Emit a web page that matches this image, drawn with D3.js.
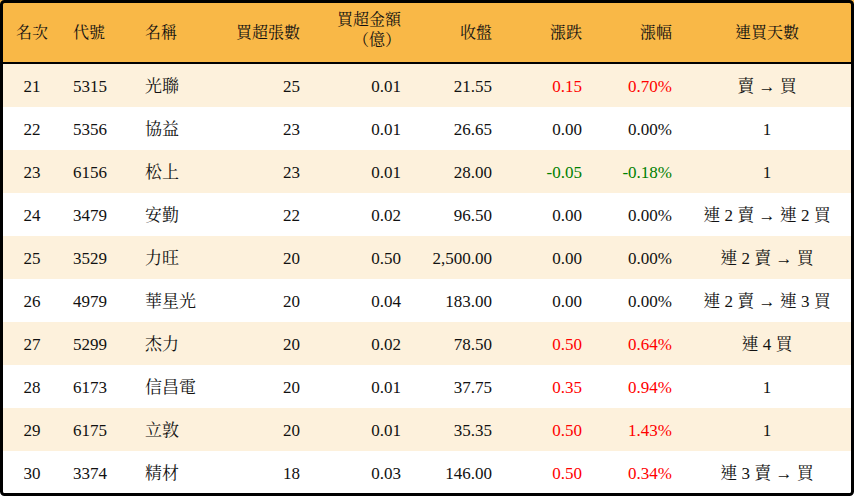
<!DOCTYPE html>
<html><head><meta charset="utf-8">
<script src="https://cdn.jsdelivr.net/npm/d3@7"></script>
<style>body{margin:0;background:#fff}</style>
</head><body><div id="chart"></div>
<script>
// table data
const ranks = [21,22,23,24,25,26,27,28,29,30]
const codes = ['5315','5356','6156','3479','3529','4979','5299','6173','6175','3374']
const names = ['光聯','協益','松上','安勤','力旺','華星光','杰力','信昌電','立敦','精材']
const lots = [25,23,23,22,20,20,20,20,20,18]
const amounts = ['0.01','0.01','0.01','0.02','0.50','0.04','0.02','0.01','0.01','0.03']
const closes = ['21.55','26.65','28.00','96.50','2,500.00','183.00','78.50','37.75','35.35','146.00']
const changes = ['0.15','0.00','-0.05','0.00','0.00','0.00','0.50','0.35','0.50','0.50']
const pcts = ['0.70%','0.00%','-0.18%','0.00%','0.00%','0.00%','0.64%','0.94%','1.43%','0.34%']
const streaks = ['賣 → 買','1','1','連 2 賣 → 連 2 買','連 2 賣 → 買','連 2 賣 → 連 3 買','連 4 買','1','1','連 3 賣 → 買']
const headers = ['名次','代號','名稱','買超張數','買超金額\n（億）','收盤','漲跌','漲幅','連買天數']

var width = 854, height = 496
var svg = d3.select('#chart').append('svg').attr('width', width).attr('height', height)

const font = '"Liberation Serif","Noto Serif CJK TC","Noto Sans CJK TC",serif'

// columns: x position and anchor
const cols = [
  {x: 32, a: 'middle'}, {x: 73, a: 'start'}, {x: 145, a: 'start'},
  {x: 300, a: 'end'}, {x: 401, a: 'end'}, {x: 492, a: 'end'},
  {x: 582, a: 'end'}, {x: 672, a: 'end'}, {x: 767, a: 'middle'}
]

const yScale = d3.scaleBand().domain(ranks).range([64, 494])

svg.append('rect').attr('x', 0).attr('y', 0).attr('width', width).attr('height', 63).attr('fill', '#f9b847')

svg.selectAll('rect.row').data(ranks).enter().append('rect')
  .attr('x', 0).attr('y', d => yScale(d)).attr('width', width).attr('height', yScale.bandwidth())
  .attr('fill', (d, i) => i % 2 === 0 ? '#fdf1dc' : '#ffffff')

svg.append('line').attr('x1', 0).attr('x2', width).attr('y1', 63).attr('y2', 63)
  .attr('stroke', '#000').attr('stroke-width', 2)

// header
headers.forEach((h, j) => {
  const lines = h.split('\n')
  const t = svg.append('text').attr('font-family', font).attr('font-size', 16)
    .attr('text-anchor', cols[j].a === 'middle' ? 'middle' : cols[j].a).attr('fill', '#111')
  lines.forEach((l, k) => {
    t.append('tspan').attr('x', lines.length > 1 && k === 1 ? cols[j].x - 24 : cols[j].x)
      .attr('text-anchor', lines.length > 1 && k === 1 ? 'middle' : null)
      .attr('y', lines.length > 1 ? 25 + k * 20 : 38).text(l)
  })
})

function colorOf(v) {
  const n = parseFloat(v)
  return n > 0 ? '#ff0000' : n < 0 ? '#008000' : '#111'
}

ranks.forEach((r, i) => {
  const cy = yScale(r) + yScale.bandwidth() / 2 + 6
  const vals = [r, codes[i], names[i], lots[i], amounts[i], closes[i], changes[i], pcts[i], streaks[i]]
  vals.forEach((v, j) => {
    svg.append('text').attr('x', cols[j].x).attr('y', cy)
      .attr('text-anchor', cols[j].a).attr('font-family', font).attr('font-size', 17)
      .attr('fill', j === 6 || j === 7 ? colorOf(changes[i]) : '#111')
      .text(v)
  })
})

svg.append('rect').attr('x', 1.5).attr('y', 1.5).attr('width', width - 3).attr('height', height - 3)
  .attr('fill', 'none').attr('stroke', '#000').attr('stroke-width', 3).attr('rx', 3)
</script></body></html>
